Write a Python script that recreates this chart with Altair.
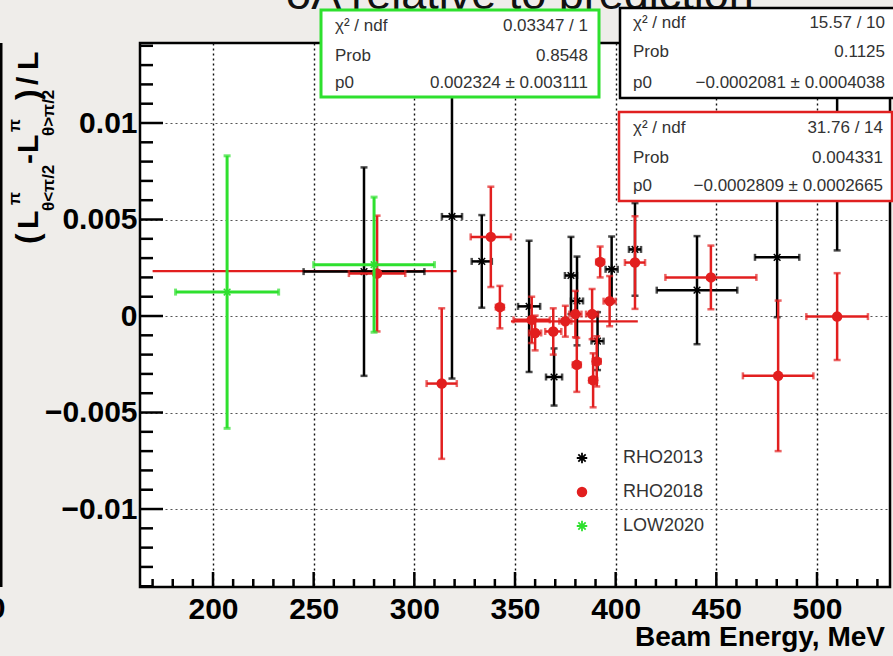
import altair as alt
import pandas as pd

# ---------------- data ----------------
low_x = [207, 280]
low_y = [0.00124, 0.00266]
low_xe = [25.6, 30]
low_ye = [0.00706, 0.0035]

r13_x = [275, 318.7, 333.5, 357, 369.4, 377.8, 380.8, 391, 398, 409.6, 440.4, 480.2, 510]
r13_y = [0.0023, 0.00516, 0.00283, 0.0005, -0.00316, 0.0021, 0.00078, -0.0013, 0.00242, 0.00345, 0.00134, 0.00304, 0.0075]
r13_xe = [30, 5, 5, 5.5, 4, 3, 3, 3, 3, 3, 20, 11, 3]
r13_ye = [0.0054, 0.0084, 0.0024, 0.0034, 0.00148, 0.002, 0.0023, 0.0015, 0.0017, 0.0024, 0.0028, 0.0031, 0.0041]

r18_x = [281.5, 313.6, 338, 342.5, 358.3, 360, 369, 375, 380, 380.7, 388.3, 388.8, 390.6, 392.3, 397, 409.6, 447.3, 480.7, 510]
r18_y = [0.0022, -0.0035, 0.0041, 0.00046, -0.0002, -0.00088, -0.0008, -0.00027, 0.0001, -0.00253, 0.0001, -0.00333, -0.00235, 0.0028, 0.00077, 0.00277, 0.002, -0.0031, -0.00003]
r18_xe = [14, 7.5, 10, 2, 9, 3, 4, 3, 3, 2, 3, 2, 2, 2, 3, 5, 22.6, 17.5, 15.3]
r18_ye = [0.003, 0.0039, 0.0026, 0.0011, 0.0012, 0.0009, 0.0012, 0.0008, 0.0012, 0.0014, 0.0013, 0.0014, 0.0013, 0.0008, 0.0013, 0.0024, 0.00165, 0.0039, 0.00225]

fit_p0 = [0.002324, -0.0002809]
fit_from = [170, 348]
fit_to = [321, 411]

x_major = [200, 250, 300, 350, 400, 450, 500]
x_minor = [170, 180, 190, 210, 220, 230, 240, 260, 270, 280, 290, 310, 320, 330, 340,
           360, 370, 380, 390, 410, 420, 430, 440, 460, 470, 480, 490, 510, 520, 530]
y_major = [-0.01, -0.005, 0, 0.005, 0.01]
y_minor = [-0.014, -0.013, -0.012, -0.011, -0.009, -0.008, -0.007, -0.006, -0.004, -0.003,
           -0.002, -0.001, 0.001, 0.002, 0.003, 0.004, 0.006, 0.007, 0.008, 0.009,
           0.011, 0.012, 0.013, 0.014]

legend_names = ["RHO2013", "RHO2018", "LOW2020"]

boxes = [
    {"color": "#2ee02e", "rows": [("χ² / ndf", "0.03347 / 1"), ("Prob", "0.8548"), ("p0", "0.002324 ± 0.003111")]},
    {"color": "#000000", "rows": [("χ² / ndf", "15.57 / 10"), ("Prob", "0.1125"), ("p0", "−0.0002081 ± 0.0004038")]},
    {"color": "#e02020", "rows": [("χ² / ndf", "31.76 / 14"), ("Prob", "0.004331"), ("p0", "−0.0002809 ± 0.0002665")]},
]

# ---------------- helpers ----------------
W, H = 750, 544
XS = alt.Scale(domain=[163.74, 536.26], nice=False, zero=False)
YS = alt.Scale(domain=[-0.01404, 0.014145], nice=False, zero=False)
FONT = "Liberation Sans"

RED = "#e21f1f"
GREEN = "#2ee02e"
BLACK = "#000000"

ASTER = "M-1,0L1,0M0,-1L0,1M-0.7,-0.7L0.7,0.7M-0.7,0.7L0.7,-0.7"

XA = alt.Axis(values=x_major, grid=True, gridDash=[2, 3], gridColor="#111",
              gridWidth=1.4, ticks=False, domain=False, labelFont=FONT,
              labelFontWeight="bold", labelFontSize=30, labelPadding=7,
              labelColor="#000", format="d", title=None)
YA = alt.Axis(values=y_major, grid=True, gridDash=[2, 3], gridColor="#555",
              gridWidth=1.1, ticks=False, domain=False, labelFont=FONT,
              labelFontWeight="bold", labelFontSize=30, labelPadding=3,
              labelColor="#000", title=None,
              labelExpr="datum.value == 0 ? '0' : replace(format(datum.value, '.3~f'), '-', '\u2212')")


def mk(xs, ys, xe, ye):
    d = pd.DataFrame({"x": xs, "y": ys, "xe": xe, "ye": ye})
    d["x0"] = d.x - d.xe
    d["x1"] = d.x + d.xe
    d["y0"] = d.y - d.ye
    d["y1"] = d.y + d.ye
    return d


def X(f):
    return alt.X(f, type="quantitative", scale=XS, axis=XA, title=None)


def Y(f):
    return alt.Y(f, type="quantitative", scale=YS, axis=YA, title=None)


def series(d, color, width, marker, msize, filled):
    base = alt.Chart(d)
    vr = base.mark_rule(color=color, strokeWidth=width, clip=True).encode(
        x=X("x"), y=Y("y0"), y2="y1")
    hr = base.mark_rule(color=color, strokeWidth=width, clip=True).encode(
        x=X("x0"), x2="x1", y=Y("y"))
    caps_y = pd.concat([d[["x", "y0"]].rename(columns={"y0": "cy"}),
                        d[["x", "y1"]].rename(columns={"y1": "cy"})])
    caps_x = pd.concat([d[["x0", "y"]].rename(columns={"x0": "cx"}),
                        d[["x1", "y"]].rename(columns={"x1": "cx"})])
    cy = alt.Chart(caps_y).mark_tick(orient="horizontal", color=color, size=7,
                                     thickness=width, clip=True).encode(x=X("x"), y=Y("cy"))
    cx = alt.Chart(caps_x).mark_tick(orient="vertical", color=color, size=7,
                                     thickness=width, clip=True).encode(x=X("cx"), y=Y("y"))
    if filled:
        pt = base.mark_point(shape=marker, filled=True, color=color, size=msize,
                             opacity=1, clip=True).encode(x=X("x"), y=Y("y"))
    else:
        pt = base.mark_point(shape=marker, filled=False, color=color, size=msize,
                             strokeWidth=1.5, opacity=1, clip=True).encode(x=X("x"), y=Y("y"))
    return [vr, hr, cy, cx, pt]


d_low = mk(low_x, low_y, low_xe, low_ye)
d_13 = mk(r13_x, r13_y, r13_xe, r13_ye)
d_18 = mk(r18_x, r18_y, r18_xe, r18_ye)

one = pd.DataFrame({"a": [0]})

xmaj = alt.Chart(pd.DataFrame({"v": x_major})).mark_rule(color="#000", strokeWidth=2.5).encode(
    x=X("v"), y=alt.value(H), y2=alt.value(H - 15))
xmin = alt.Chart(pd.DataFrame({"v": x_minor})).mark_rule(color="#000", strokeWidth=2.5).encode(
    x=X("v"), y=alt.value(H), y2=alt.value(H - 8))
ymaj = alt.Chart(pd.DataFrame({"v": y_major})).mark_rule(color="#000", strokeWidth=2.5).encode(
    y=Y("v"), x=alt.value(0), x2=alt.value(23))
ymin = alt.Chart(pd.DataFrame({"v": y_minor})).mark_rule(color="#000", strokeWidth=2.5).encode(
    y=Y("v"), x=alt.value(0), x2=alt.value(13))

fit = alt.Chart(pd.DataFrame({"x0": fit_from, "x1": fit_to, "y": fit_p0})).mark_rule(
    color=RED, strokeWidth=2.2, clip=True).encode(x=X("x0"), x2="x1", y=Y("y"))

layers = [fit]
layers += series(d_13, BLACK, 2.5, ASTER, 90, False)
layers += series(d_18, RED, 2.5, "circle", 110, True)
layers += series(d_low, GREEN, 3, ASTER, 90, False)
layers += [xmaj, xmin, ymaj, ymin]

# left-edge piece of neighbouring frame
layers.append(alt.Chart(one).mark_rule(color="#000", strokeWidth=3).encode(
    x=alt.value(-139), y=alt.value(0), y2=alt.value(H)))
layers.append(alt.Chart(one).mark_text(text="0", font=FONT, fontWeight="bold", fontSize=30,
                                        align="center", baseline="top").encode(
    x=alt.value(-143), y=alt.value(H + 7)))

# x-axis title
layers.append(alt.Chart(one).mark_text(text="Beam Energy, MeV", font=FONT, fontWeight="bold",
                                        fontSize=28, align="right", baseline="alphabetic").encode(
    x=alt.value(745), y=alt.value(603)))

# y-axis title pieces (rotated, reading bottom to top); (text, baseline x px, start y px, size)
ytitle = [
    ("(", 38, 244, 32),
    ("L", 38, 229, 30),
    ("π", 20, 205, 17),
    ("θ<π/2", 54, 211, 17),
    ("-", 38, 164, 30),
    ("L", 38, 153, 30),
    ("π", 20, 132, 17),
    ("θ>π/2", 54, 136, 17),
    (")", 38, 100, 32),
    ("/", 38, 85, 30),
    ("L", 38, 70, 30),
]
for txt, px, py, fs in ytitle:
    layers.append(alt.Chart(one).mark_text(text=txt, font=FONT, fontWeight="bold", fontSize=fs,
                                            angle=270, align="left", baseline="alphabetic").encode(
        x=alt.value(px - 140), y=alt.value(py - 43)))

# title (cut off at top)
layers.append(alt.Chart(one).mark_text(text="δA relative to prediction", font=FONT, fontSize=45,
                                        align="center", baseline="alphabetic", color="#111").encode(
    x=alt.value(380), y=alt.value(-34)))

# stat boxes
box_geo = [(181, 459, -33, 54, 3), (480, 760, -35, 55, 2.5), (479, 752, 69, 158, 2.5)]
row_y = [[-17, 13, 40], [-20, 9, 40], [85, 115, 143]]
lefts = [195, 493, 493]
rights = [448, 745, 743]
for b, (x0, x1, y0, y1, sw), ry, lx, rx in zip(boxes, box_geo, row_y, lefts, rights):
    layers.append(alt.Chart(one).mark_rect(fill="white", stroke=b["color"], strokeWidth=sw).encode(
        x=alt.value(x0), x2=alt.value(x1), y=alt.value(y0), y2=alt.value(y1)))
    for (lab, val), yy in zip(b["rows"], ry):
        layers.append(alt.Chart(one).mark_text(text=lab, font=FONT, fontSize=17, color="#333",
                                                align="left", baseline="middle").encode(
            x=alt.value(lx), y=alt.value(yy)))
        layers.append(alt.Chart(one).mark_text(text=val, font=FONT, fontSize=17, color="#333",
                                                align="right", baseline="middle").encode(
            x=alt.value(rx), y=alt.value(yy)))

# legend
leg_y = [415, 449, 483]
leg_cols = [BLACK, RED, GREEN]
leg_shapes = [ASTER, "circle", ASTER]
for name, yy, c, s in zip(legend_names, leg_y, leg_cols, leg_shapes):
    filled = s == "circle"
    layers.append(alt.Chart(one).mark_point(shape=s, filled=filled, color=c, size=110,
                                             strokeWidth=1.8, opacity=1).encode(
        x=alt.value(442), y=alt.value(yy)))
    layers.append(alt.Chart(one).mark_text(text=name, font=FONT, fontSize=18, color="#333",
                                            align="left", baseline="middle").encode(
        x=alt.value(483), y=alt.value(yy)))

chart = alt.layer(*layers).properties(
    width=W, height=H,
    autosize=alt.AutoSizeParams(type="none"),
    padding={"left": 140, "top": 43, "right": 3, "bottom": 69},
    background="#efedea",
).configure_view(fill="white", stroke="#000", strokeWidth=2.5)

chart.save("out.html", embed_options={"renderer": "svg", "actions": False})
